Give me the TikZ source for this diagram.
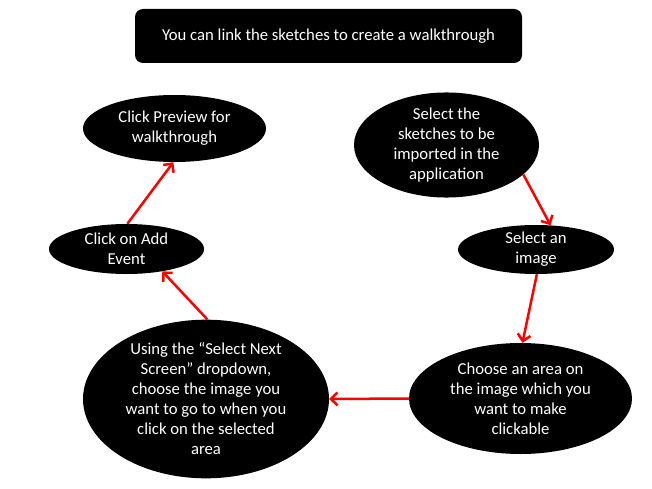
\documentclass[tikz,border=0pt]{standalone}
\usepackage{fontspec}
\setmainfont{Carlito}
\usetikzlibrary{arrows.meta,shapes.geometric}
\begin{document}
\begin{tikzpicture}[x=1pt,y=-1pt,
  bubble/.style={ellipse, fill=black, text=white, inner sep=0pt, align=center,
    font=\fontsize{16.7}{20}\selectfont},
  flow/.style={draw={rgb,255:red,255;green,0;blue,0}, line width=2.5pt,
    -{Straight Barb[length=6.5pt,width=13pt,line width=2.5pt]}}]
\path[use as bounding box, fill=white] (0,0) rectangle (652,489);
\node[fill=black, text=white, rounded corners=8pt, minimum width=387pt, minimum height=54pt,
  font=\fontsize{16.7}{20}\selectfont] (title) at (328.5,36) {You can link the sketches to create a walkthrough};
\node[bubble, minimum width=183pt, minimum height=67pt] (preview) at (174.5,128.5) {Click Preview for\\walkthrough};
\node[bubble, minimum width=155pt, minimum height=50pt] (addev) at (126.5,249) {Click on Add\\Event};
\node[bubble, minimum width=185pt, minimum height=100pt] (sketch) at (446.5,145) {Select the\\sketches to be\\imported in the\\application};
\node[bubble, minimum width=156pt, minimum height=49pt] (image) at (536,249.5) {Select an\\image};
\node[bubble, minimum width=223pt, minimum height=111pt] (choose) at (520.5,398.5) {Choose an area on\\the image which you\\want to make\\clickable};
\node[bubble, minimum width=246pt, minimum height=154pt] (screen) at (206,399) {Using the “Select Next\\Screen” dropdown,\\choose the image you\\want to go to when you\\click on the selected\\area};
\draw[flow] (sketch.339) -- (image.59);
\draw[flow] (image.272) -- (choose.88);
\draw[flow] (choose.180) -- (screen.0);
\draw[flow] (screen.89) -- (addev.328);
\draw[flow] (addev.88) -- (preview.268);
\end{tikzpicture}
\end{document}
